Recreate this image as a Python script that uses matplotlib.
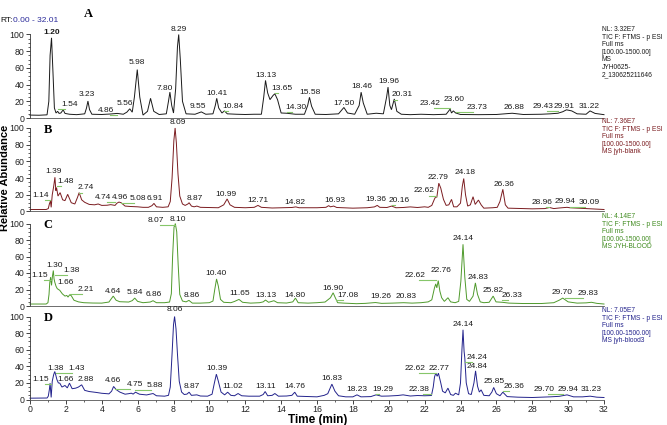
import matplotlib
matplotlib.use("Agg")
import matplotlib.pyplot as plt
from matplotlib.ticker import MultipleLocator
import numpy as np

# ---------------- DATA ----------------
A_trace = [(0,3.5),(0.5,3.3),(0.95,3.8),(1.05,20),(1.12,75),(1.20,96),(1.28,55),(1.36,12),(1.45,6),(1.54,8),
           (1.62,5.5),(1.72,6),(1.85,9.8),(1.95,5.5),(2.2,4.5),(2.6,4),(3.05,5),(3.15,12),(3.23,20.3),(3.32,10),
           (3.45,4.5),(4.0,4.2),(4.5,4.8),(4.86,5.5),(5.2,4.5),(5.4,7),(5.56,11),(5.7,7),(5.82,25),(5.98,58),
           (6.12,25),(6.3,3.5),(6.55,8),(6.72,23.6),(6.9,8),(7.2,4.2),(7.6,5),(7.72,20),(7.80,31),(7.9,15),
           (8.0,6),(8.12,35),(8.22,85),(8.29,100),(8.38,70),(8.5,20),(8.7,5),(9.2,4.5),(9.55,7.3),(9.8,4.5),
           (10.2,5),(10.33,15),(10.41,23.6),(10.52,12),(10.7,6),(10.84,8.5),(11.0,5),(11.5,4.5),(12.0,4.2),(12.5,4.5),
           (12.9,4.5),(13.03,25),(13.13,45),(13.25,30),(13.38,22),(13.55,27),(13.65,29),(13.8,22),(14.0,6),(14.3,5.7),
           (14.8,4.5),(15.3,4.5),(15.48,15),(15.58,24.8),(15.7,14),(15.9,4.5),(16.5,4.2),(17.2,5),(17.5,12.6),(17.7,6),
           (18.1,4.5),(18.35,15),(18.46,30.9),(18.58,18),(18.8,4.5),(19.3,5.7),(19.7,5),(19.88,25),(19.96,37),(20.06,15),
           (20.15,10),(20.31,22.8),(20.45,8),(20.7,4.5),(21.2,4),(21.8,4.5),(22.5,4),(23.2,4.5),(23.42,10.6),(23.5,6),
           (23.60,8.5),(23.73,6),(24.0,4.2),(25.0,4.0),(26.0,4.2),(26.88,5.7),(27.5,4.2),(28.5,4.5),(29.0,5.0),(29.43,5.7),
           (29.7,7.5),(29.91,9.8),(30.2,8.5),(30.5,5),(31.0,4.5),(31.22,8.5),(31.5,5.5),(32.0,4.0)]

B_trace = [(0,2.4),(0.9,2.4),(1.02,3.5),(1.08,9),(1.14,12.5),(1.18,5),(1.24,20),(1.32,30),(1.39,41),(1.44,25),
           (1.48,28.6),(1.56,18.5),(1.68,22.6),(1.82,14),(1.95,13),(2.1,20.6),(2.3,10.5),(2.5,9),(2.65,17),(2.74,22.6),
           (2.88,14),(3.05,11),(3.3,8.5),(3.6,8),(3.8,9),(4.0,7.3),(4.3,7.5),(4.5,8.2),(4.74,7.3),(4.85,10),
           (4.96,11.3),(5.08,10.5),(5.3,6.5),(5.6,6),(6.0,5.6),(6.3,5),(6.6,5),(6.8,7),(6.91,9.7),(7.05,5.6),
           (7.4,5),(7.7,5.6),(7.82,12),(7.92,40),(8.02,85),(8.09,100),(8.16,82),(8.25,45),(8.35,18.5),(8.5,9),
           (8.65,7.3),(8.8,9),(8.87,10.5),(9.0,6.5),(9.15,5.6),(9.3,6.5),(9.5,5),(10.0,4.8),(10.5,4.5),(10.8,8),
           (10.99,15),(11.15,8),(11.4,5),(12.0,4.5),(12.5,5),(12.71,7.3),(12.9,5),(13.5,4.2),(14.0,4.5),(14.6,4.8),
           (14.82,5.5),(15.0,4.5),(16.0,4.5),(16.5,5),(16.65,7),(16.75,5.6),(16.93,6.5),(17.1,4.8),(18.0,4),(18.8,4.5),
           (19.2,5.5),(19.36,7.3),(19.5,5),(19.9,4.8),(20.16,6.5),(20.4,4.5),(20.8,4.8),(21.2,5.5),(21.6,4.8),(22.0,5.6),
           (22.2,5),(22.4,7.3),(22.55,15),(22.62,17.7),(22.68,17),(22.79,33.9),(22.9,28),(23.05,14.5),(23.2,7.3),(23.35,8),
           (23.5,14.5),(23.62,5.6),(23.8,5.6),(24.0,10),(24.1,30),(24.18,39.5),(24.28,20),(24.4,6.5),(24.55,8),(24.7,17.7),
           (24.82,8.5),(25.0,13.7),(25.15,8),(25.3,4),(25.8,4.5),(26.05,5),(26.2,12),(26.36,26.6),(26.5,8),(26.65,4),
           (27.0,3.8),(28.0,3.2),(28.7,3.5),(28.96,4.8),(29.2,3.5),(29.5,4.2),(29.94,5),(30.09,4.5),(30.5,4),(31.0,3.5),
           (32.0,2.4)]

C_trace = [(0,2.4),(0.9,2.4),(1.0,4),(1.06,14),(1.1,28),(1.15,35),(1.2,25),(1.25,36),(1.30,43),(1.34,33),
           (1.38,29),(1.45,24),(1.52,21),(1.66,19),(1.8,14.8),(1.95,12),(2.05,12.8),(2.12,10.8),(2.21,13.6),(2.3,12.5),
           (2.45,7),(2.7,5),(3.0,4),(3.5,3.6),(4.0,3.5),(4.4,4.8),(4.64,12),(4.8,7),(5.0,5.2),(5.5,4.8),
           (5.7,6.5),(5.84,9.6),(6.0,5.6),(6.3,4),(6.7,4.8),(6.86,6.4),(7.05,4),(7.5,4),(7.78,4.8),(7.88,15),
           (7.95,60),(8.03,96),(8.07,97),(8.10,100),(8.18,90),(8.26,50),(8.35,14),(8.5,6),(8.7,5),(8.86,6.8),
           (9.05,3.5),(9.5,3.5),(10.0,4),(10.2,6),(10.3,20),(10.40,32.8),(10.5,24),(10.62,8),(10.8,4.5),(11.2,4),
           (11.4,5.5),(11.65,8),(11.85,4.5),(12.3,3.5),(12.8,4),(13.0,5),(13.13,7.2),(13.3,4.5),(13.6,6.4),(13.8,4),
           (14.3,3.6),(14.65,5),(14.80,9.6),(14.95,4),(15.5,3.5),(16.0,4),(16.45,4.8),(16.75,10),(16.90,16),(17.0,11),
           (17.15,4),(17.5,3.5),(18.2,2.8),(18.7,3.2),(19.26,4.2),(19.6,3.2),(20.2,3.5),(20.83,4),(21.3,3.5),(21.8,4),
           (22.2,5),(22.4,7.5),(22.55,22),(22.62,26.8),(22.68,22),(22.76,30.8),(22.85,18),(22.95,10),(23.1,5.6),(23.3,10),
           (23.45,5),(23.7,4),(23.9,5.6),(24.02,30),(24.14,74.8),(24.24,35),(24.35,8),(24.5,5.6),(24.7,12),(24.83,28),
           (24.95,14),(25.1,5),(25.3,4),(25.6,4.5),(25.82,12),(25.98,5),(26.33,4.5),(26.7,3.5),(27.5,3),(28.5,3),
           (29.2,4),(29.5,7),(29.70,9.6),(30.0,5),(30.5,3.5),(31.0,3.8),(31.3,4.5),(31.6,3.2),(32.0,2.4)]

D_trace = [(0,1.6),(0.95,1.8),(1.02,4),(1.08,12),(1.12,19.7),(1.18,2.5),(1.24,22),(1.32,30),(1.38,33.7),(1.43,30),
           (1.5,24),(1.58,20),(1.66,19.7),(1.78,15),(1.95,16.9),(2.08,14),(2.2,19.7),(2.35,13),(2.55,13.7),(2.7,15),
           (2.88,17.7),(3.05,11),(3.3,9.6),(3.7,8.5),(4.0,7.5),(4.4,6.8),(4.55,10),(4.66,15.7),(4.8,12),(5.0,9),
           (5.3,6.4),(5.5,7),(5.65,7.6),(5.75,6.5),(5.88,8.8),(6.1,6.4),(6.5,5.5),(6.86,7.2),(7.05,4.5),(7.5,4),
           (7.72,5),(7.82,15),(7.92,55),(8.0,90),(8.06,100),(8.14,85),(8.22,55),(8.32,22),(8.45,9),(8.6,6),
           (8.75,6.5),(8.87,8.8),(9.0,5),(9.3,5.6),(9.5,4.2),(9.9,4),(10.15,6.4),(10.28,20),(10.39,30.5),(10.5,22),
           (10.65,9),(10.85,5.6),(11.02,8.8),(11.2,5),(11.4,4.5),(11.6,7.2),(11.8,4.5),(12.2,4),(12.8,4),(13.0,6),
           (13.11,9.6),(13.25,4.5),(13.5,5),(13.65,7.2),(13.85,4),(14.3,4.2),(14.6,5),(14.76,8.8),(14.9,4),(15.5,3.5),
           (16.0,3.2),(16.4,5),(16.6,7),(16.83,18.5),(17.0,10),(17.2,4.5),(17.6,3.2),(18.0,3.2),(18.23,5.6),(18.45,3.2),
           (19.0,3.5),(19.29,5.6),(19.6,4),(20.0,4.2),(20.5,4.8),(20.8,5.6),(21.2,4.2),(21.6,4.8),(22.0,4.5),(22.38,4.8),
           (22.48,15),(22.55,27),(22.62,31.7),(22.70,28),(22.77,31.7),(22.9,20),(23.0,10),(23.15,8),(23.3,13.7),(23.45,6),
           (23.6,5),(23.72,7.6),(23.9,5.6),(24.0,20),(24.08,60),(24.14,84),(24.2,58),(24.24,50),(24.32,20),(24.45,7),
           (24.6,6),(24.75,20),(24.84,34.5),(24.95,16),(25.05,9),(25.15,11.6),(25.3,5),(25.6,4.5),(25.75,9),(25.85,14.5),
           (26.0,7),(26.2,4.5),(26.36,8.8),(26.6,3.5),(27.2,2.8),(28.0,2.4),(28.5,2.8),(29.0,3.2),(29.5,3.8),(29.94,5.6),
           (30.3,3.2),(30.8,3.2),(31.23,4),(31.6,2.8),(32.0,2.4)]

A_labels = ["1.20","1.54","3.23","4.86","5.56","5.98","7.80","8.29","9.55","10.41","10.84","13.13","13.65",
            "14.30","15.58","17.50","18.46","19.96","20.31","23.42","23.60","23.73","26.88","29.43","29.91","31.22"]
B_labels = ["8.09","1.39","1.48","1.14","2.74","4.74","4.96","5.08","6.91","8.87","10.99","12.71","14.82",
            "16.93","19.36","20.16","22.62","22.79","24.18","26.36","28.96","29.94","30.09"]
C_labels = ["8.07","8.10","1.30","1.15","1.38","1.66","2.21","4.64","5.84","6.86","8.86","10.40","11.65",
            "13.13","14.80","16.90","17.08","19.26","20.83","22.62","22.76","24.14","24.83","25.82","26.33",
            "29.70","29.83"]
D_labels = ["8.06","1.15","1.38","1.43","1.66","2.88","4.66","4.75","5.88","8.87","10.39","11.02","13.11",
            "14.76","16.83","18.23","19.29","22.38","22.62","22.77","24.14","24.24","24.84","25.85","26.36",
            "29.70","29.94","31.23"]

A_info = ["NL: 3.32E7", "TIC F: FTMS - p ESI", "Full ms", "[100.00-1500.00]", "MS", "JYH0625-", "2_130625211646"]
B_info = ["NL: 7.36E7", "TIC F: FTMS - p ESI", "Full ms", "[100.00-1500.00]", "MS jyh-blank"]
C_info = ["NL: 4.14E7", "TIC F: FTMS - p ESI", "Full ms", "[100.00-1500.00]", "MS JYH-BLOOD"]
D_info = ["NL: 7.05E7", "TIC F: FTMS - p ESI", "Full ms", "[100.00-1500.00]", "MS jyh-blood3"]

panel_letters = ["A", "B", "C", "D"]
x_ticks = list(range(0, 33, 2))
y_ticks = [0, 20, 40, 60, 80, 100]

# ---------------- LAYOUT ----------------
A_label_pos = [(1.19,102),(2.19,15.9),(3.19,27.6),(4.23,8.5),(5.31,17.9),(5.94,66.7),(7.5,35.8),(8.27,106.5),
               (9.38,13.4),(10.42,29.7),(11.3,14.2),(13.13,51),(14.06,35.8),(14.83,12.6),(15.63,30.9),(17.5,17.9),
               (18.48,37.8),(20.0,43.9),(20.73,27.6),(22.29,17.9),(23.65,22),(24.94,12.6),(26.98,12.2),(28.6,13.4),
               (29.8,13.4),(31.15,13.4)]
B_label_pos = [(8.23,107),(1.31,47.6),(1.98,35.5),(0.58,19.4),(3.13,28.2),(4.06,17.3),(5.0,17.3),(6.04,15.3),
               (6.94,15.3),(9.17,16.1),(10.94,20.2),(12.71,13.7),(14.79,11.3),(16.98,13.3),(19.27,14.1),(20.58,13.7),
               (21.98,24.6),(22.77,40.7),(24.23,46.8),(26.4,31.9),(28.54,11.3),(29.8,12.1),(31.19,11.3)]
C_label_pos = [(7.02,104),(8.23,104.8),(1.35,49.6),(0.52,36.8),(2.29,42.8),(1.98,28.8),(3.13,20),(4.63,17.6),
               (5.83,16.8),(6.88,13.6),(9.02,12.8),(10.38,38.8),(11.67,14.8),(13.13,12.8),(14.79,12.8),(16.9,21.6),
               (17.7,12.8),(19.58,11.6),(20.94,11.6),(21.46,36.8),(22.92,42.8),(24.17,81.6),(25.0,34.8),(25.83,18.8),
               (26.88,12.8),(29.69,16),(31.1,14.8)]
D_label_pos = [(8.06,108),(0.58,23.7),(1.4,37.8),(2.6,37.8),(1.98,24.5),(3.13,23.7),(4.63,22.5),(5.83,18.5),
               (6.98,16.9),(9.02,16.1),(10.4,37),(11.31,15.7),(13.13,15.7),(14.79,15.7),(16.81,24.9),(18.23,11.6),
               (19.69,11.6),(21.67,11.6),(21.46,37.8),(22.81,37.8),(24.17,90),(24.9,50.6),(24.9,39.8),(25.9,21.7),
               (26.98,15.7),(28.65,11.6),(30.0,12.4),(31.3,11.6)]

W, H = 667, 425
# (top of 100 level, 0 level) in pixels from top
panel_px = [(34.5, 118.0), (128.0, 211.5), (223.5, 306.0), (316.5, 399.5)]
x0_px, x1_px = 30.0, 604.0
info_top_px = [26, 118, 213, 307]

trace_colors = ["#1a1a1a", "#7b1c20", "#4f9a2c", "#23238c"]
info_colors = ["#1a1a1a", "#7b1c20", "#3f8a1e", "#23238c"]
leader_color = "#86c66a"
label_color = "#1a1a1a"

FONT = ["Liberation Sans", "DejaVu Sans"]
plt.rcParams["font.family"] = FONT
plt.rcParams["axes.linewidth"] = 0.6

fig = plt.figure(figsize=(W / 100, H / 100), dpi=100)
fig.patch.set_facecolor("white")

traces = [A_trace, B_trace, C_trace, D_trace]
labels = [A_labels, B_labels, C_labels, D_labels]
label_pos = [A_label_pos, B_label_pos, C_label_pos, D_label_pos]
infos = [A_info, B_info, C_info, D_info]

for i in range(4):
    top, bot = panel_px[i]
    ax = fig.add_axes([x0_px / W, 1 - bot / H, (x1_px - x0_px) / W, (bot - top) / H])
    ax.set_xlim(0, 32)
    ax.set_ylim(0, 100)
    t = np.array([p[0] for p in traces[i]])
    v = np.array([p[1] for p in traces[i]])
    ax.plot(t, v, color=trace_colors[i], lw=0.7, clip_on=False, solid_joinstyle="miter")
    for sp in ["top", "right"]:
        ax.spines[sp].set_visible(False)
    ax.spines["left"].set_color("#333333")
    ax.spines["bottom"].set_color("#555555")
    ax.set_yticks(y_ticks)
    ax.yaxis.set_minor_locator(MultipleLocator(5))
    ax.tick_params(axis="y", which="major", length=3, width=0.6, labelsize=6.3, pad=1, colors="#222222")
    ax.tick_params(axis="y", which="minor", length=1.6, width=0.5, colors="#222222")
    if i < 3:
        ax.set_xticks([])
    else:
        ax.set_xticks(x_ticks)
        ax.xaxis.set_minor_locator(MultipleLocator(1))
        ax.tick_params(axis="x", which="major", length=3, width=0.6, labelsize=6.3, pad=1, colors="#222222")
        ax.tick_params(axis="x", which="minor", length=1.6, width=0.5, colors="#222222")
    ax.patch.set_alpha(0)

    # peak labels and leader lines
    for txt, (lx, ly) in zip(labels[i], label_pos[i]):
        rt = float(txt)
        fw = "bold" if (i == 0 and txt == "1.20") else "normal"
        ax.text(lx, ly, txt, ha="center", va="center", fontsize=6, color=label_color,
                fontweight=fw, clip_on=False)
        if abs(lx - rt) > 0.35:
            end = lx - 0.25 if lx > rt else lx + 0.25
            ax.plot([rt, end], [ly - 5.5, ly - 5.5], color=leader_color, lw=0.8, clip_on=False)

    # right info block
    fig.text(602 / W, 1 - info_top_px[i] / H, "\n".join(infos[i]), ha="left", va="top",
             fontsize=4.8, color=info_colors[i], linespacing=1.12)

    # panel letter
    if i == 0:
        fig.text(88 / W, 1 - 14 / H, "A", fontsize=9, fontweight="bold",
                 family="Liberation Serif", ha="center", va="center")
    else:
        ax.text(1.0, 98, panel_letters[i], fontsize=9, fontweight="bold",
                family="Liberation Serif", ha="center", va="center")

# RT header
fig.text(0 / W, 1 - 21 / H, "RT:", fontsize=6, color="#111111", ha="left", va="center")
fig.text(13 / W, 1 - 21 / H, "0.00 - 32.01", fontsize=6, color="#2a2a9a", ha="left", va="center")

# axis titles
fig.text(5 / W, 1 - 178 / H, "Relative Abundance", rotation=90, fontsize=8, fontweight="bold",
         ha="center", va="center")
fig.text(318 / W, 1 - 419.5 / H, "Time (min)", fontsize=8.5, fontweight="bold",
         ha="center", va="center")

fig.savefig("out.png", dpi=100, facecolor="white")
